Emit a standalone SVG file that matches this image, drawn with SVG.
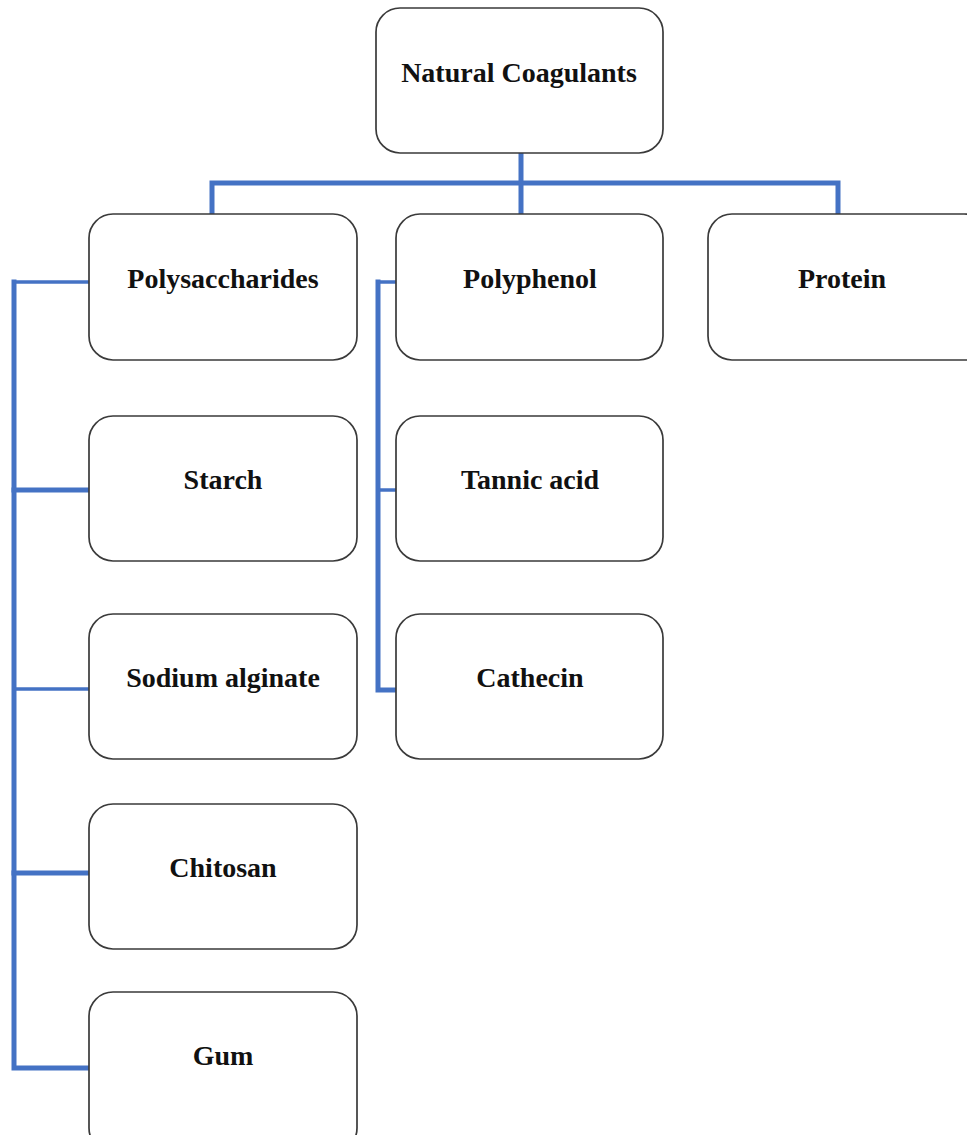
<svg xmlns="http://www.w3.org/2000/svg" width="967" height="1135" viewBox="0 0 967 1135">
  <style>
    .box { fill: #ffffff; stroke: #3a3a3a; stroke-width: 1.7; }
    .lbl { font-family: "Liberation Serif", "Times New Roman", serif; font-weight: bold; font-size: 28px; fill: #111111; text-anchor: middle; }
    .wire { fill: none; stroke: #4472C4; stroke-linecap: square; stroke-linejoin: miter; }
    .w5 { stroke-width: 5; }
    .w3 { stroke-width: 3.5; }
  </style>
  <rect width="967" height="1135" fill="#ffffff"/>

  <!-- connectors -->
  <g id="connectors">
    <path class="wire w5" d="M521 153 V214 M212 183 H838 M212 183 V214 M838 183 V214"/>
    <path class="wire w5" d="M14 282 V1068 H89"/>
    <path class="wire w3" d="M14 282 H89"/>
    <path class="wire w5" d="M14 490 H89"/>
    <path class="wire w3" d="M14 689 H89"/>
    <path class="wire w5" d="M14 873 H89"/>
    <path class="wire w5" d="M378 282 V690 H396"/>
    <path class="wire w3" d="M378 282 H396"/>
    <path class="wire w3" d="M378 490 H396"/>
  </g>

  <g id="natural-coagulants">
    <rect class="box" x="376" y="8" width="287" height="145" rx="24"/>
    <text class="lbl" x="519" y="82">Natural Coagulants</text>
  </g>
  <g id="polysaccharides">
    <rect class="box" x="89" y="214" width="268" height="146" rx="24"/>
    <text class="lbl" x="223" y="288">Polysaccharides</text>
  </g>
  <g id="polyphenol">
    <rect class="box" x="396" y="214" width="267" height="146" rx="24"/>
    <text class="lbl" x="530" y="288">Polyphenol</text>
  </g>
  <g id="protein">
    <rect class="box" x="708" y="214" width="280" height="146" rx="24"/>
    <text class="lbl" x="842" y="288">Protein</text>
  </g>
  <g id="starch">
    <rect class="box" x="89" y="416" width="268" height="145" rx="24"/>
    <text class="lbl" x="223" y="489">Starch</text>
  </g>
  <g id="sodium-alginate">
    <rect class="box" x="89" y="614" width="268" height="145" rx="24"/>
    <text class="lbl" x="223" y="687">Sodium alginate</text>
  </g>
  <g id="chitosan">
    <rect class="box" x="89" y="804" width="268" height="145" rx="24"/>
    <text class="lbl" x="223" y="877">Chitosan</text>
  </g>
  <g id="gum">
    <rect class="box" x="89" y="992" width="268" height="160" rx="24"/>
    <text class="lbl" x="223" y="1065">Gum</text>
  </g>
  <g id="tannic-acid">
    <rect class="box" x="396" y="416" width="267" height="145" rx="24"/>
    <text class="lbl" x="530" y="489">Tannic acid</text>
  </g>
  <g id="cathecin">
    <rect class="box" x="396" y="614" width="267" height="145" rx="24"/>
    <text class="lbl" x="530" y="687">Cathecin</text>
  </g>
</svg>
